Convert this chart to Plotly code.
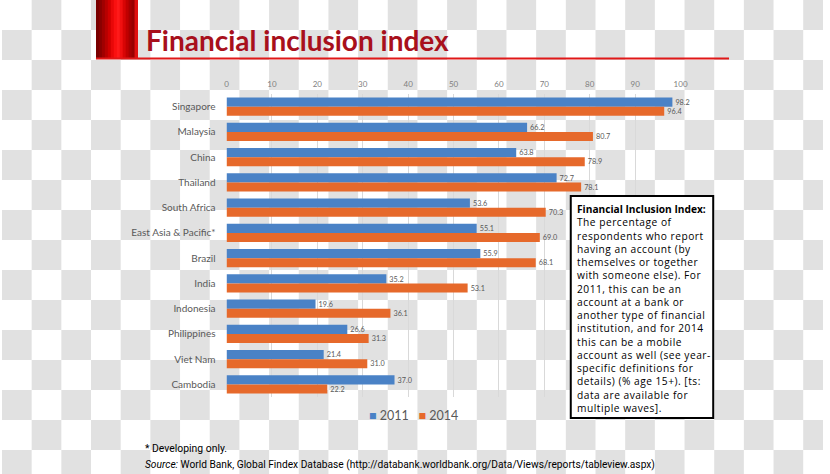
import plotly.graph_objects as go

countries = ["Singapore", "Malaysia", "China", "Thailand", "South Africa",
             "East Asia & Pacific*", "Brazil", "India", "Indonesia",
             "Philippines", "Viet Nam", "Cambodia"]
v2011 = [98.2, 66.2, 63.8, 72.7, 53.6, 55.1, 55.9, 35.2, 19.6, 26.6, 21.4, 37.0]
v2014 = [96.4, 80.7, 78.9, 78.1, 70.3, 69.0, 68.1, 53.1, 36.1, 31.3, 31.0, 22.2]
x_ticks = [0, 10, 20, 30, 40, 50, 60, 70, 80, 90, 100]
series_names = ["2011", "2014"]

box_title = "Financial Inclusion Index:"
box_lines = ["The percentage of", "respondents who report",
             "having an account (by", "themselves or together",
             "with someone else). For", "2011, this can be an",
             "account at a bank or", "another type of financial",
             "institution, and for 2014", "this can be a mobile",
             "account as well (see year-", "specific definitions for",
             "details) (% age 15+). [ts:", "data are available for",
             "multiple waves]."]

W, H = 830, 474
BLUE = "#4A82C6"
ORANGE = "#E6692B"
GREY_TXT = "#595959"

def px(x):
    return x / W

def py(y):
    return 1 - y / H

fig = go.Figure()
for name, vals, col in [(series_names[0], v2011, BLUE), (series_names[1], v2014, ORANGE)]:
    fig.add_trace(go.Bar(
        y=countries, x=vals, name=name, orientation="h",
        marker=dict(color=col, line=dict(width=0)),
        text=[f"{v:.1f}" for v in vals], textposition="outside",
        textfont=dict(size=8, color=GREY_TXT, family="Lato"), cliponaxis=False,
        showlegend=False,
    ))

shapes = []
# checkerboard backdrop
sq = 30
for i in range(0, (H // sq) + 1):
    for j in range(0, (W // sq) + 1):
        if (i + j) % 2 == 1:
            x0, x1 = j * sq, min((j + 1) * sq, W)
            y0, y1 = i * sq, min((i + 1) * sq, H)
            shapes.append(dict(type="rect", xref="paper", yref="paper",
                               x0=px(x0), x1=px(x1), y0=py(y1), y1=py(y0),
                               fillcolor="#E1E1E1", line=dict(width=0),
                               layer="below"))

# gradient red block at top-left
grad = ["#7A0000", "#8A0000", "#A00000", "#B80000", "#D00000", "#E80808",
        "#FA1010", "#FF1A1A", "#F01010", "#D80505", "#C00000", "#A80000",
        "#980000", "#E01010"]
bx0, bx1 = 95, 137
step = (bx1 - bx0) / len(grad)
for k, c in enumerate(grad):
    shapes.append(dict(type="rect", xref="paper", yref="paper",
                       x0=px(bx0 + k * step), x1=px(bx0 + (k + 1) * step + 0.5),
                       y0=py(58), y1=py(0), fillcolor=c, line=dict(width=0),
                       layer="above"))
# red underline
shapes.append(dict(type="line", xref="paper", yref="paper",
                   x0=px(95), x1=px(735), y0=py(58.5), y1=py(58.5),
                   line=dict(color="#E01818", width=2)))
# definition box
shapes.append(dict(type="rect", xref="paper", yref="paper",
                   x0=px(575), x1=px(719), y0=py(418), y1=py(196),
                   fillcolor="white", line=dict(color="black", width=2),
                   layer="above"))

LS = "letter-spacing:0.5px"
box_text = (f"<b>{box_title}</b><br>"
            + "<br>".join(f"<span style='{LS}'>{ln}</span>" for ln in box_lines))

annotations = [
    dict(text="<b>Financial inclusion index</b>", xref="paper", yref="paper",
         x=px(144), y=py(40), xanchor="left", yanchor="middle", showarrow=False,
         font=dict(family="Lato", size=28, color="#A8101C")),
    dict(text=box_text, xref="paper", yref="paper",
         x=px(579), y=py(200), xanchor="left", yanchor="top", showarrow=False,
         align="left", font=dict(family="Open Sans", size=10.2, color="black")),
]

legend_text = (f"<span style='color:{BLUE}'>■</span> {series_names[0]}"
               f"&nbsp;&nbsp;&nbsp;<span style='color:{ORANGE}'>■</span> {series_names[1]}")
annotations += [
    dict(text=legend_text, xref="paper", yref="paper",
         x=px(416), y=py(415), xanchor="center", yanchor="middle", showarrow=False,
         font=dict(family="Lato", size=12.5, color=GREY_TXT)),
    dict(text="* Developing only.", xref="paper", yref="paper",
         x=px(143), y=py(448), xanchor="left", yanchor="middle", showarrow=False,
         font=dict(family="Roboto", size=10.4, color="black")),
    dict(text=("<i>Source:</i> World Bank, Global Findex Database "
               "(http://databank.worldbank.org/Data/Views/reports/tableview.aspx)"),
         xref="paper", yref="paper",
         x=px(143), y=py(465), xanchor="left", yanchor="middle", showarrow=False,
         font=dict(family="Roboto", size=10.2, color="black")),
]

fig.update_layout(
    width=W, height=H,
    margin=dict(l=0, r=0, t=0, b=0),
    paper_bgcolor="white", plot_bgcolor="rgba(0,0,0,0)",
    barmode="group", bargap=0.28, bargroupgap=0,
    shapes=shapes, annotations=annotations,
    showlegend=False,
    xaxis=dict(domain=[px(227), px(686)], range=[0, 100], side="top",
               tickvals=x_ticks, ticktext=[str(t) for t in x_ticks],
               showgrid=True, gridcolor="#D9D9D9", gridwidth=1,
               zeroline=False, showline=False, ticks="",
               tickfont=dict(family="Lato", size=8, color="#7F7F7F"),
               ticklabelstandoff=4, fixedrange=True),
    yaxis=dict(domain=[py(397), py(94)], autorange="reversed",
               showgrid=False, zeroline=False, showline=False, ticks="",
               tickfont=dict(family="Lato", size=10, color=GREY_TXT),
               ticklabelstandoff=10, fixedrange=True),
)

fig.write_html("out.html", config={"displayModeBar": False},
               post_script=("document.documentElement.style.margin='0';"
                            "document.body.style.margin='0';"
                            "document.documentElement.style.overflow='hidden';"
                            "document.body.style.overflow='hidden';"))
